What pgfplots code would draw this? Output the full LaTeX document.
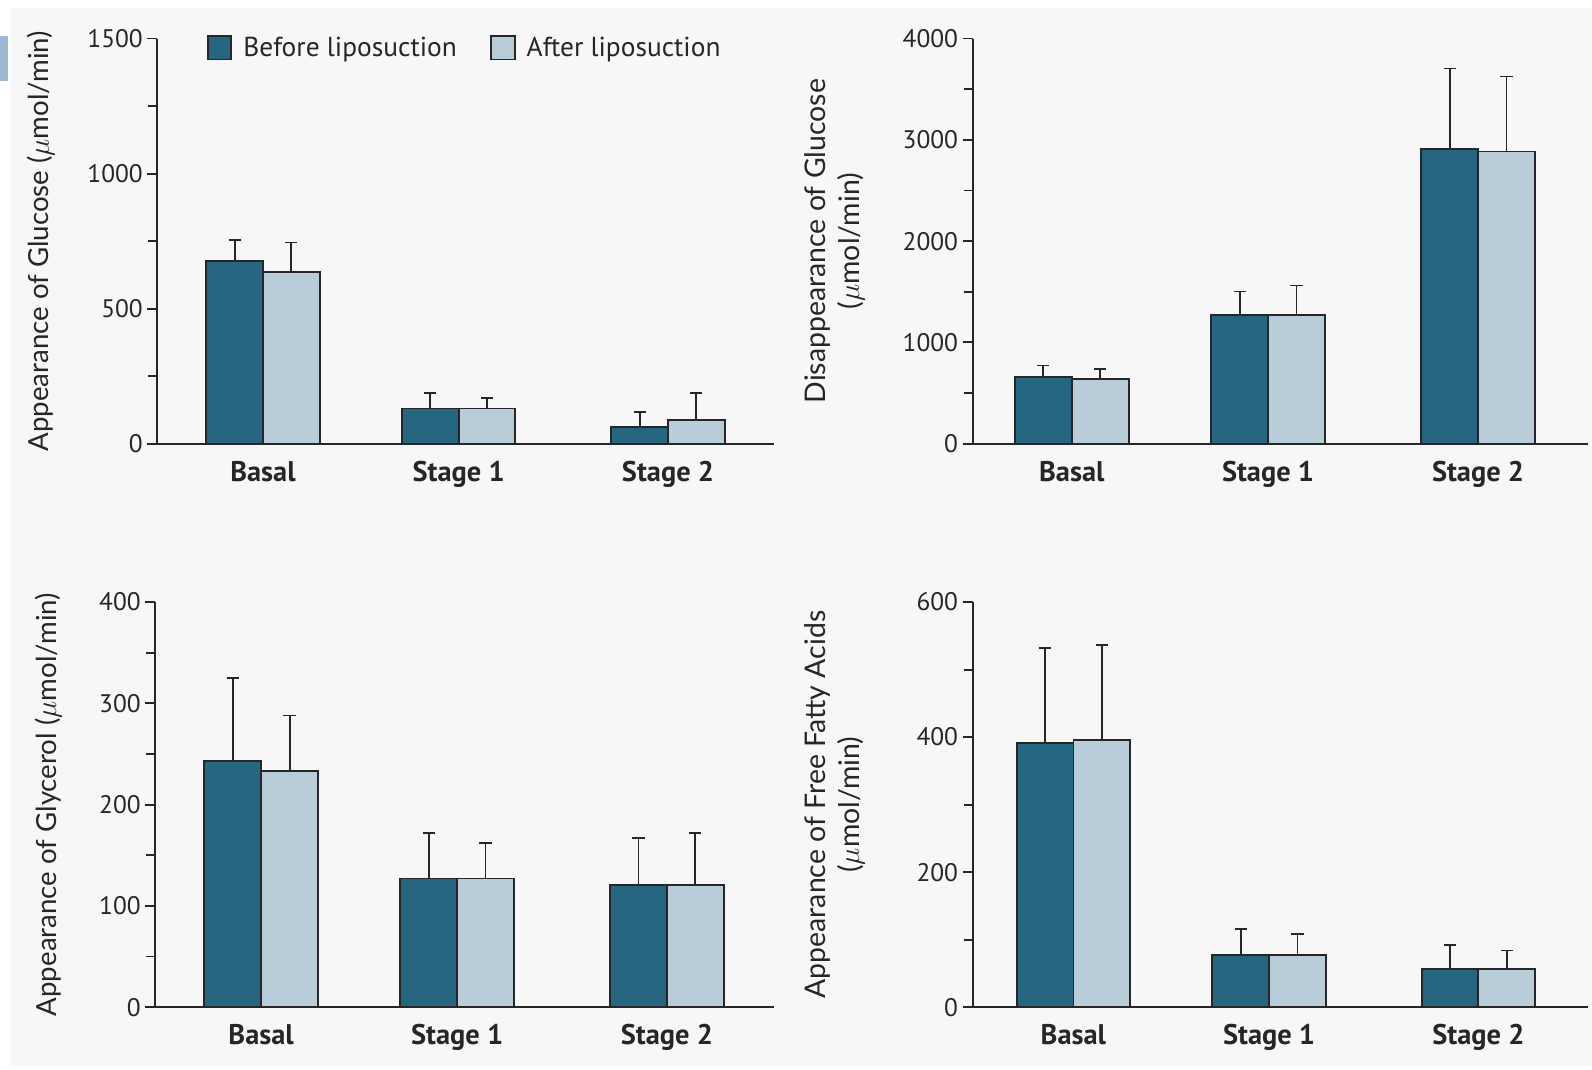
\documentclass[border=0pt]{standalone}
\usepackage{pgfplots}
\pgfplotsset{compat=1.18}
\usepackage{fontspec}
\setmainfont{PT Sans}
\newfontfamily\labelfont{Lato}

\definecolor{beforecol}{HTML}{276680}
\definecolor{aftercol}{HTML}{B9CDD9}
\definecolor{panelbg}{HTML}{F7F7F7}
\definecolor{ink}{HTML}{262626}
\definecolor{tabcol}{HTML}{9DB9D3}

\pgfplotsset{
  panel/.style={
    scale only axis, anchor=south west,
    height=199.5pt,
    ymin=0, clip=false,
    axis x line*=bottom, axis y line*=left,
    axis line style={ink, line width=1pt},
    xtick={0,1,2.07}, xticklabels={Basal,Stage 1,Stage 2},
    major x tick style={draw=none},
    tick align=outside,
    major tick length=5pt, minor tick length=4.5pt,
    every tick/.style={ink, line width=0.9pt},
    yticklabel style={font=\fontsize{12.5}{14}\selectfont, text=ink, inner xsep=2pt},
    xticklabel style={font=\fontsize{14}{16}\selectfont\bfseries, text=ink},
    /pgf/number format/assume math mode=true,
    /pgf/number format/1000 sep={},
    ylabel style={font=\labelfont\fontsize{14}{16.5}\selectfont, text=ink, align=center, anchor=center},
    ybar=0pt, bar width=0.29,
    error bars/y dir=plus, error bars/y explicit,
    error bars/error bar style={ink, line width=0.9pt},
    error bars/error mark options={ink, line width=0.9pt, mark size=3pt, rotate=90},
  },
  ylabel at/.style={ylabel style={at={(axis description cs:#1,0.5)}}},
  before/.style={fill=beforecol, draw=ink, line width=0.9pt, bar shift=-0.145},
  after/.style={fill=aftercol, draw=ink, line width=0.9pt, bar shift=0.145},
}

\begin{document}
\begin{tikzpicture}
\path[use as bounding box, fill=white] (0,0) rectangle (784pt,526.5pt);
\fill[panelbg] (5pt,1.5pt) rectangle (784pt,522.5pt);
\fill[tabcol] (0,486.5pt) rectangle (4pt,509pt);

% Appearance of glucose
\begin{axis}[panel, at={(77.5pt,308pt)}, width=303.5pt,
  xmin=-0.54, xmax=2.61, ymax=1500,
  ytick={0,500,1000,1500}, minor ytick={250,750,1250},
  ylabel={Appearance of Glucose ($\mu$mol/min)}, ylabel at=-0.189,
  ylabel style={font=\labelfont\fontsize{13.6}{16}\selectfont},
  legend columns=2,
  legend style={at={(rel axis cs:0.07,0.977)}, anchor=west, draw=none, fill=none,
    font=\fontsize{13.5}{15}\selectfont, text=ink, nodes={inner xsep=5.5pt},
    /tikz/every even column/.append style={column sep=11pt}},
  legend image code/.code={\draw[#1,/tikz/.cd,line width=0.9pt] (0pt,-5.75pt) rectangle (11.5pt,5.75pt);},
]
\addplot[before] coordinates {(0,675) +- (0,80) (1,130) +- (0,58) (2.07,61) +- (0,57)};
\addplot[after] coordinates {(0,636) +- (0,109) (1,130) +- (0,40) (2.07,89) +- (0,99)};
\legend{Before liposuction, After liposuction}
\end{axis}

% Disappearance of glucose
\begin{axis}[panel, at={(479pt,308pt)}, width=303pt,
  xmin=-0.505, xmax=2.63, ymax=4000,
  ytick={0,1000,2000,3000,4000}, minor ytick={500,1500,2500,3500},
  ylabel={Disappearance of Glucose\\($\mu$mol/min)}, ylabel at=-0.224,
]
\addplot[before] coordinates {(0,660) +- (0,112) (1,1273) +- (0,230) (2.07,2910) +- (0,795)};
\addplot[after] coordinates {(0,635) +- (0,105) (1,1273) +- (0,289) (2.07,2885) +- (0,740)};
\end{axis}

% Appearance of glycerol
\begin{axis}[panel, at={(76.5pt,30.5pt)}, width=304.5pt,
  xmin=-0.54, xmax=2.615, ymax=400,
  ytick={0,100,200,300,400}, minor ytick={50,150,250,350},
  ylabel={Appearance of Glycerol ($\mu$mol/min)}, ylabel at=-0.173,
  ylabel style={font=\labelfont\fontsize{13.6}{16}\selectfont},
]
\addplot[before] coordinates {(0,243) +- (0,82) (1,127) +- (0,45) (2.07,121) +- (0,46)};
\addplot[after] coordinates {(0,233) +- (0,55) (1,127) +- (0,35) (2.07,121) +- (0,51)};
\end{axis}

% Appearance of free fatty acids
\begin{axis}[panel, at={(479pt,30.5pt)}, width=303pt,
  xmin=-0.515, xmax=2.63, ymax=600,
  ytick={0,200,400,600}, minor ytick={100,300,500},
  ylabel={Appearance of Free Fatty Acids\\($\mu$mol/min)}, ylabel at=-0.224,
]
\addplot[before] coordinates {(0,391) +- (0,141) (1,77) +- (0,39) (2.07,56) +- (0,36)};
\addplot[after] coordinates {(0,396) +- (0,140) (1,77) +- (0,32) (2.07,56) +- (0,28)};
\end{axis}
\end{tikzpicture}
\end{document}
